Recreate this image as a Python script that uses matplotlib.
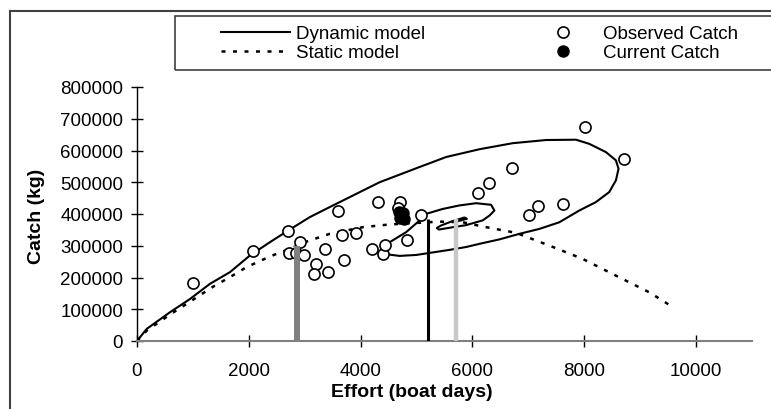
import matplotlib
matplotlib.use("Agg")
import matplotlib.pyplot as plt
from matplotlib.lines import Line2D
from matplotlib.patches import Rectangle

plt.rcParams['font.family'] = ['Liberation Sans', 'DejaVu Sans']

# dynamic model (spiral)
dyn_x = [0, 173, 589, 946, 1304, 1661, 2018, 2375, 2696, 3089, 3446, 4339, 5054, 5530,
         6125, 6720, 7316, 7851, 8089, 8387, 8566, 8613, 8566, 8446, 8208, 7911, 7554,
         7196, 6839, 6482, 6125, 5887, 5589, 5291, 4994, 4696, 4518, 4399, 4450, 4518,
         4815, 5054, 5173, 5470, 5768, 6066, 6333, 6393, 6304, 6184, 5887, 5600, 5400,
         5363, 5440, 5619, 5857, 5900, 5714]
dyn_y = [0, 38000, 90500, 132000, 180000, 216700, 269000, 311000, 347000, 390000, 421700,
         500000, 548000, 579500, 604000, 623000, 633000, 634000, 621000, 595000, 569000,
         542500, 506000, 469000, 437500, 411000, 374000, 353000, 337500, 320000, 306000,
         296000, 287000, 279000, 271000, 268000, 272000, 285000, 300000, 311000, 343000,
         379500, 400600, 416000, 427000, 434000, 429000, 411000, 395000, 380000, 365000,
         357000, 351000, 356000, 364000, 376000, 389000, 385000, 376000]

# static model
stat_x = [0, 173, 589, 976, 1185, 1393, 1661, 1958, 2256, 2494, 2732, 3030, 3446, 4042,
          4518, 5411, 5827, 6184, 6780, 7375, 7970, 8565, 9160, 9589]
stat_y = [0, 32500, 83000, 127000, 151000, 174500, 201000, 232500, 256500, 274500, 290000,
          313000, 337500, 358600, 367000, 376000, 374000, 360600, 340700, 300600, 258700,
          206000, 153600, 106300]

# observed catch
obs_x = [1005, 2071, 2696, 2720, 2851, 2911, 2982, 3196, 3161, 3363, 3417, 3696, 3600,
         3666, 3911, 4318, 4202, 4393, 4429, 4700, 4670, 5071, 4827, 6107, 6304, 6702,
         7018, 7173, 7613, 8018, 8702]
obs_y = [182000, 285000, 347000, 278500, 278500, 311000, 271000, 244000, 210000, 290000,
         216700, 256000, 409000, 335000, 341000, 437000, 290000, 273000, 303000, 437000,
         420000, 398000, 318500, 465000, 498000, 545000, 397000, 426000, 431000, 675000,
         572000]

# current catch
cur_x = [4680, 4726, 4770, 4700, 4760]
cur_y = [405000, 395000, 385000, 388000, 402000]

# vertical markers
bar_x = [2870, 5200, 5700]
bar_top = [300000, 385000, 385000]
bar_col = ['#808080', 'black', '#c8c8c8']
bar_lw = [4.3, 2.2, 3.2]

fig = plt.figure(figsize=(7.71, 4.10), dpi=100)
ax = fig.add_axes([137/771, 1-342/410, (752-137)/771, (342-88)/410])

ax.plot(dyn_x, dyn_y, color='black', lw=1.5, zorder=2)
ax.plot(stat_x, stat_y, color='black', lw=1.8, ls=(0, (1.6, 3)), zorder=2)
ax.plot(obs_x, obs_y, 'o', ms=8, mfc='white', mec='black', mew=1.2, zorder=3)
ax.plot(cur_x, cur_y, 'o', ms=8, mfc='black', mec='black', zorder=3)
for x, t, c, w in zip(bar_x, bar_top, bar_col, bar_lw):
    ax.plot([x, x], [0, t], color=c, lw=w, solid_capstyle='butt', zorder=4)

ax.set_xlim(0, 11000)
ax.set_ylim(0, 800000)
ax.set_xticks(range(0, 10001, 2000))
ax.set_yticks(range(0, 800001, 100000))
ax.spines['top'].set_visible(False)
ax.spines['right'].set_visible(False)
ax.spines['left'].set_color('black')
ax.spines['left'].set_linewidth(1)
ax.spines['bottom'].set_color('#808080')
ax.spines['bottom'].set_linewidth(1.5)
ax.tick_params(axis='both', direction='inout', length=8, width=1, color='black',
               labelsize=13.5)
ax.tick_params(axis='y', pad=6)
ax.tick_params(axis='x', pad=11)

ax.set_xlabel('Effort (boat days)', fontsize=14, fontweight='bold')
ax.xaxis.set_label_coords((412-137)/615, -(384-342)/254)
ax.set_ylabel('Catch (kg)', fontsize=14, fontweight='bold')
ax.yaxis.set_label_coords((45-137)/615, (342-216)/254)

# outer frame and legend box
fig.add_artist(Line2D([10/771, 10/771], [0, 1-12/410], transform=fig.transFigure,
                      color='#404040', lw=1.5))
fig.add_artist(Line2D([10/771, 1], [1-12/410, 1-12/410], transform=fig.transFigure,
                      color='#404040', lw=1.5))
fig.add_artist(Rectangle((175/771, 1-71/410), 700/771, 54/410, transform=fig.transFigure,
                         fill=False, ec='#404040', lw=1.2))

handles = [Line2D([], [], color='black', lw=1.5),
           Line2D([], [], color='black', lw=1.8, ls=(0, (1.6, 3))),
           Line2D([], [], ls='none', marker='o', ms=8, mfc='white', mec='black', mew=1.2),
           Line2D([], [], ls='none', marker='o', ms=8, mfc='black', mec='black')]
labels = ['Dynamic model', 'Static model', 'Observed Catch', 'Current Catch']
fig.legend(handles, labels, ncol=2, loc='upper left', bbox_to_anchor=(221/771, 1-26/410),
           frameon=False, borderpad=0, borderaxespad=0, handlelength=3.7,
           handletextpad=0.3, columnspacing=5.5, labelspacing=0.1, fontsize=13.5)

fig.savefig('out.png', dpi=100)
